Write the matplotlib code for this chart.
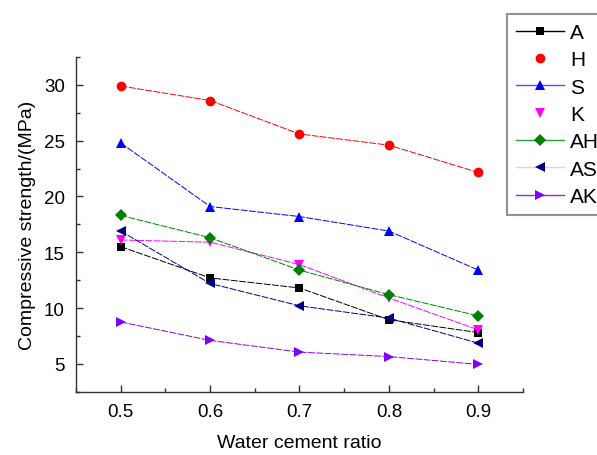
import matplotlib
matplotlib.use("Agg")
import matplotlib.pyplot as plt
from matplotlib.lines import Line2D
from matplotlib.ticker import MultipleLocator

plt.rcParams['font.family'] = ['Liberation Sans', 'DejaVu Sans']

ratio = [0.5, 0.6, 0.7, 0.8, 0.9]
labels = ['A', 'H', 'S', 'K', 'AH', 'AS', 'AK']
a_vals = [15.5, 12.7, 11.8, 8.95, 7.8]
h_vals = [29.9, 28.6, 25.6, 24.6, 22.15]
s_vals = [24.8, 19.1, 18.2, 16.9, 13.4]
k_vals = [16.1, 15.9, 13.9, 10.9, 8.05]
ah_vals = [18.3, 16.3, 13.4, 11.2, 9.3]
as_vals = [16.9, 12.2, 10.2, 9.1, 6.85]
ak_vals = [8.75, 7.1, 6.05, 5.65, 4.95]

series = [a_vals, h_vals, s_vals, k_vals, ah_vals, as_vals, ak_vals]
colors = ['black', 'red', 'blue', 'magenta', 'green', 'navy', '#8000ff']
markers = ['s', 'o', '^', 'v', 'D', '<', '>']
msizes = [6, 7, 7.5, 7.5, 6, 7.5, 7.5]
legend_line = [True, False, True, False, True, True, True]
legend_line_colors = ['black', 'red', '#4d4dff', 'magenta', '#2e9e2e', '#d8d8ec', '#8a2be2']

fig = plt.figure(figsize=(5.97, 4.56), dpi=100)
ax = fig.add_axes([0.1273, 0.1388, 0.7487, 0.734])

for vals, c, m, ms in zip(series, colors, markers, msizes):
    ax.plot(ratio, vals, color=c, linewidth=0.7, linestyle=(0, (7, 1.5)),
            marker=m, markersize=ms, markeredgewidth=0)

ax.set_xlim(0.45, 0.95)
ax.set_ylim(2.5, 32.5)
ax.xaxis.set_major_locator(MultipleLocator(0.1))
ax.xaxis.set_minor_locator(MultipleLocator(0.05))
ax.yaxis.set_major_locator(MultipleLocator(5))
ax.yaxis.set_minor_locator(MultipleLocator(2.5))
ax.set_xticks(ratio)
ax.set_xticklabels(['0.5', '0.6', '0.7', '0.8', '0.9'])
ax.set_yticks([5, 10, 15, 20, 25, 30])

ax.spines['top'].set_visible(False)
ax.spines['right'].set_visible(False)
for sp in ['left', 'bottom']:
    ax.spines[sp].set_color('#333333')
    ax.spines[sp].set_linewidth(1.0)
ax.tick_params(which='major', direction='in', length=5, width=1, color='#333333',
               labelsize=13.5, pad=8)
ax.tick_params(which='minor', direction='in', length=3, width=1, color='#333333')

ax.set_xlabel('Water cement ratio', fontsize=14, labelpad=10)
ax.set_ylabel('Compressive strength/(MPa)', fontsize=14, labelpad=6)

handles = []
for c, m, ms, ln, lc in zip(colors, markers, msizes, legend_line, legend_line_colors):
    handles.append(Line2D([], [], color=lc, linewidth=1.0 if ln else 0,
                          linestyle='-' if ln else 'None',
                          marker=m, markersize=ms, markerfacecolor=c,
                          markeredgewidth=0))
leg = fig.legend(handles, labels, loc='upper left',
                 bbox_to_anchor=(507 / 597, 1 - 15 / 456),
                 fontsize=15, frameon=True, fancybox=False, shadow=False,
                 borderaxespad=0, borderpad=0.43, handlelength=2.3,
                 handletextpad=0.3, labelspacing=0.4)
leg.get_frame().set_edgecolor('#777777')
leg.get_frame().set_linewidth(1.5)

fig.savefig('out.png', dpi=100)
